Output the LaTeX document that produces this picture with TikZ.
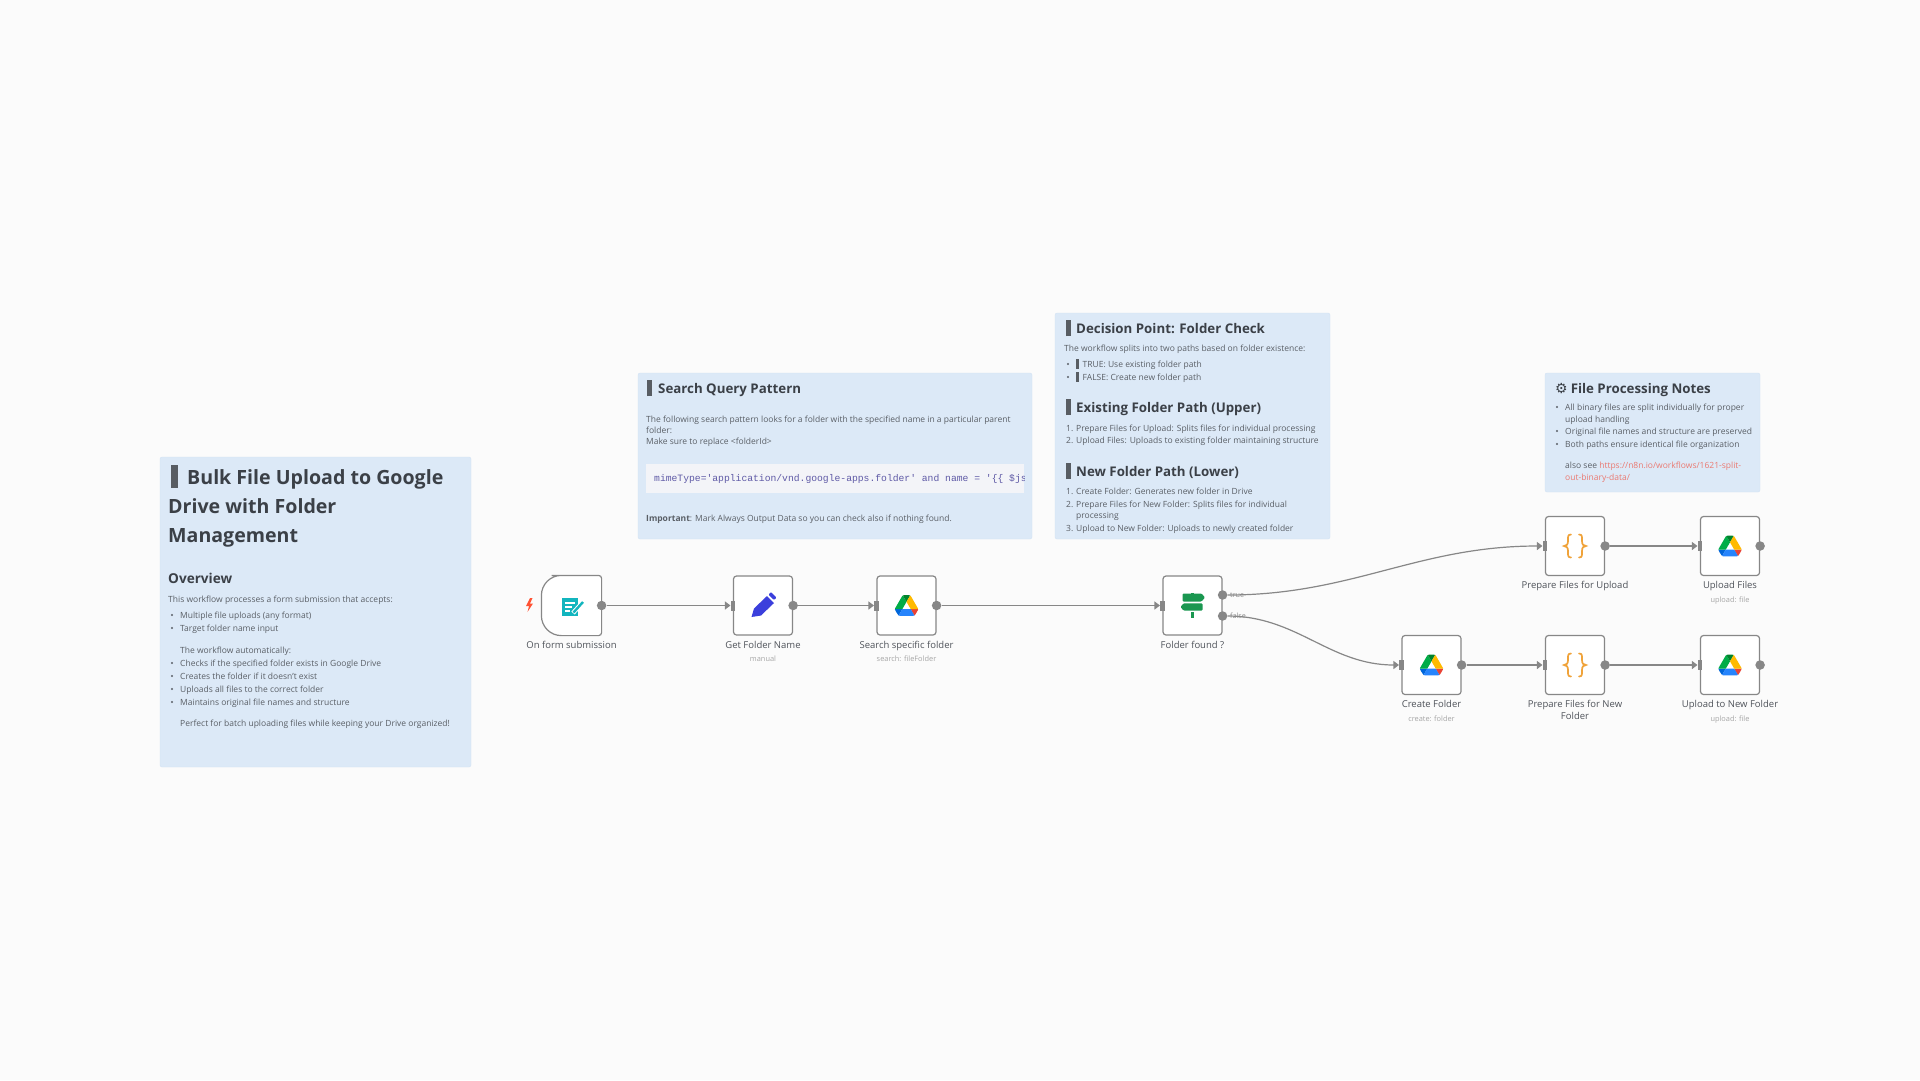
\documentclass[tikz,border=0pt]{standalone}
\usepackage{fontspec}
\setmainfont{Open Sans}
\newfontfamily\codefont{Liberation Mono}
\newfontfamily\symfont{DejaVu Sans}
\usetikzlibrary{calc,positioning,arrows.meta}

\definecolor{canvasbg}{HTML}{FBFBFB}
\definecolor{notefill}{HTML}{DCE9F7}
\definecolor{noteline}{HTML}{D3E2F3}
\definecolor{notetext}{HTML}{5A5F66}
\definecolor{headtext}{HTML}{3B4047}
\definecolor{wiregrey}{HTML}{878787}
\definecolor{linkred}{HTML}{EA7A72}
\definecolor{codepurple}{HTML}{5F5AA6}
\definecolor{codefill}{HTML}{F3F4F8}
\definecolor{signgreen}{HTML}{1A9750}
\definecolor{formteal}{HTML}{12B5BE}
\definecolor{penblue}{HTML}{3B3FDC}
\definecolor{braceorange}{HTML}{F0A33A}

\newcommand{\tofu}[3]{\textcolor{headtext!85}{\rule[#3]{#1}{#2}}}

\tikzset{
	note/.style={draw=noteline, fill=notefill, rounded corners=2pt, inner sep=0pt},
	titletxt/.style={anchor=base west, inner sep=0pt, text=headtext, font=\fontsize{19.6}{24}\selectfont\bfseries},
	headtxt/.style={anchor=base west, inner sep=0pt, text=headtext, font=\fontsize{13.3}{16}\selectfont\bfseries},
	bodytxt/.style={anchor=base west, inner sep=0pt, text=notetext, font=\fontsize{8.5}{10}\selectfont},
	wfnode/.style={draw=wiregrey, fill=white, line width=1.2pt, rounded corners=3pt, minimum size=59pt, inner sep=0pt},
	outdot/.style={circle, fill=wiregrey, minimum size=9.5pt, inner sep=0pt},
	inport/.style={fill=wiregrey, minimum width=4.5pt, minimum height=10pt, inner sep=0pt},
	wire/.style={draw=wiregrey, line width=1.2pt, -{Triangle[length=5.5pt,width=8pt]}},
	wflabel/.style={anchor=base, inner sep=0pt, text=headtext!90, font=\fontsize{9.5}{11}\selectfont},
	wfsub/.style={anchor=base, inner sep=0pt, text=black!35, font=\fontsize{7.4}{9}\selectfont},
	branchtxt/.style={anchor=west, inner sep=0pt, text=black!45, font=\fontsize{7.2}{9}\selectfont},
	pics/gdrive/.style={code={
		\begin{scope}[scale=.264, shift={(-43.65,-39)}]
			\fill[fill={rgb,255:red,0;green,102;blue,218}] (0,53) -- (27.5,53) -- (13.75,76.8) -- (6.6,66.85) -- (1.2,57.5) -- cycle;
			\fill[fill={rgb,255:red,0;green,172;blue,71}] (43.65,25) -- (29.9,1.2) -- (26.6,4.5) -- (1.2,48.5) -- (0,53) -- (27.5,53) -- cycle;
			\fill[fill={rgb,255:red,234;green,67;blue,53}] (73.55,76.8) -- (76.85,73.5) -- (86.1,57.5) -- (87.3,53) -- (59.8,53) -- (65.65,64.5) -- cycle;
			\fill[fill={rgb,255:red,0;green,131;blue,45}] (43.65,25) -- (57.4,1.2) -- (52.9,0) -- (34.4,0) -- (29.9,1.2) -- cycle;
			\fill[fill={rgb,255:red,38;green,132;blue,252}] (59.8,53) -- (27.5,53) -- (13.75,76.8) -- (18.25,78) -- (69.05,78) -- (73.55,76.8) -- cycle;
			\fill[fill={rgb,255:red,255;green,186;blue,0}] (73.4,26.5) -- (60.7,4.5) -- (57.4,1.2) -- (43.65,25) -- (59.8,53) -- (87.25,53) -- (86.05,48.5) -- cycle;
		\end{scope}
	}},
	pics/bracepair/.style={code={
		\draw[braceorange, line width=1.7pt, line cap=round] (-4,-11.5) .. controls (-7.5,-11.5) and (-7,-9) .. (-7,-5) .. controls (-7,-1.5) and (-8.5,0) .. (-11,0) .. controls (-8.5,0) and (-7,1.5) .. (-7,5) .. controls (-7,9) and (-7.5,11.5) .. (-4,11.5);
		\draw[braceorange, line width=1.7pt, line cap=round] (4,-11.5) .. controls (7.5,-11.5) and (7,-9) .. (7,-5) .. controls (7,-1.5) and (8.5,0) .. (11,0) .. controls (8.5,0) and (7,1.5) .. (7,5) .. controls (7,9) and (7.5,11.5) .. (4,11.5);
	}}
}

\begin{document}
\begin{tikzpicture}[x=1pt, y=-1pt]
	\useasboundingbox[fill=canvasbg] (0,0) rectangle (1920,1080);

	%the four notes
	\node (overview) at (315.5,612) [note, minimum width=311pt, minimum height=310pt] {};
	\node (querynote) at (835,456) [note, minimum width=394pt, minimum height=166pt] {};
	\node (decisionnote) at (1192.5,426) [note, minimum width=275pt, minimum height=226pt] {};
	\node (filesnote) at (1652.5,432.5) [note, minimum width=215pt, minimum height=119pt] {};

	\node (ovtitle1) at (171,484) [titletxt] {\tofu{7pt}{23pt}{-4pt}\hspace{9pt}Bulk File Upload to Google};
	\node (ovtitle2) at (168,513) [titletxt] {Drive with Folder};
	\node (ovtitle3) at (168,542) [titletxt] {Management};
	\node (ovhead) at (168,583) [headtxt, font=\fontsize{13.6}{16}\selectfont\bfseries] {Overview};
	\node (ovbody) at (168,602) [bodytxt] {This workflow processes a form submission that accepts:};
	\foreach \y/\txt [count=\i] in {618/{Multiple file uploads (any format)}, 631/{Target folder name input}, 653/{The workflow automatically:}, 666/{Checks if the specified folder exists in Google Drive}, 679/{Creates the folder if it doesn't exist}, 692/{Uploads all files to the correct folder}, 705/{Maintains original file names and structure}, 726/{Perfect for batch uploading files while keeping your Drive organized!}}
		\node (ovline\i) at (180,\y) [bodytxt] {\txt};
	\foreach \y in {618,631,666,679,692,705}
		\fill[notetext] (172,\y-3) circle (1.2pt);

	\node (qtitle) at (647,393) [headtxt] {\tofu{5pt}{16pt}{-3pt}\hspace{6pt}Search Query Pattern};
	\foreach \y/\txt [count=\i] in {422/{The following search pattern looks for a folder with the specified name in a particular parent}, 433/{folder:}, 444/{Make sure to replace <folderId>}}
		\node (qline\i) at (646,\y) [bodytxt] {\txt};
	\node (codebox) at (835,478.5) [fill=codefill, minimum width=378pt, minimum height=29pt, inner sep=0pt] {};
	\begin{scope}
		\clip (codebox.south west) rectangle (codebox.north east);
		\node (codeline) at (654,481) [bodytxt, text=codepurple, font=\fontsize{9.7}{11}\codefont] {mimeType='application/vnd.google-apps.folder' and name = '\{\{ \$json};
	\end{scope}
	\node (qimportant) at (646,521) [bodytxt] {\textbf{Important}: Mark Always Output Data so you can check also if nothing found.};

	\node (dtitle) at (1066,333) [headtxt] {\tofu{5pt}{16pt}{-3pt}\hspace{5pt}Decision Point: Folder Check};
	\node (dbody) at (1064,351) [bodytxt] {The workflow splits into two paths based on folder existence:};
	\node (dtrue) at (1076,367) [bodytxt] {\tofu{3pt}{10pt}{-1.5pt}\hspace{3.5pt}TRUE: Use existing folder path};
	\node (dfalse) at (1076,380) [bodytxt] {\tofu{3pt}{10pt}{-1.5pt}\hspace{3.5pt}FALSE: Create new folder path};
	\foreach \y in {367,380}
		\fill[notetext] (1068,\y-3) circle (1.2pt);
	\node (dhead1) at (1066,412) [headtxt] {\tofu{5pt}{16pt}{-3pt}\hspace{5pt}Existing Folder Path (Upper)};
	\node (dhead2) at (1066,476) [headtxt] {\tofu{5pt}{16pt}{-3pt}\hspace{5pt}New Folder Path (Lower)};
	\foreach \y/\num/\txt in {431/1./{Prepare Files for Upload: Splits files for individual processing}, 443/2./{Upload Files: Uploads to existing folder maintaining structure}, 494/1./{Create Folder: Generates new folder in Drive}, 507/2./{Prepare Files for New Folder: Splits files for individual}, 531/3./{Upload to New Folder: Uploads to newly created folder}} {
		\node (dnum\y) at (1066,\y) [bodytxt] {\num};
		\node (dstep\y) at (1076,\y) [bodytxt] {\txt};
	}
	\node (dwrap) at (1076,518.5) [bodytxt] {processing};

	\node (ftitle) at (1555,393) [headtxt] {{\symfont\fontsize{14}{16}\selectfont ⚙}\hspace{3pt}File Processing Notes};
	\foreach \y/\txt [count=\i] in {410/{All binary files are split individually for proper}, 422/{upload handling}, 434/{Original file names and structure are preserved}, 447/{Both paths ensure identical file organization}}
		\node (fline\i) at (1565,\y) [bodytxt] {\txt};
	\foreach \y in {410,434,447}
		\fill[notetext] (1557,\y-3) circle (1.2pt);
	\node (fsee) at (1565,468) [bodytxt] {also see \textcolor{linkred}{https://n8n.io/workflows/1621-split-}};
	\node (fsee2) at (1565,480) [bodytxt, text=linkred] {out-binary-data/};

	%workflow nodes
	\node (form) at (571.5,605.5) [wfnode, draw=none, fill=none] {};
	\filldraw[draw=wiregrey, fill=white, line width=1.2pt] (form.north) [rounded corners=3pt] -- (form.north east) -- (form.south east) -- (form.south) [rounded corners=20pt] -- (form.south west) -- (form.north west) -- cycle;
	\node (getname) at (763,605.5) [wfnode] {};
	\node (search) at (906.5,605.5) [wfnode] {};
	\node (found) at (1192.5,605.5) [wfnode] {};
	\node (prepup) at (1575,546) [wfnode] {};
	\node (upfiles) at (1730,546) [wfnode] {};
	\node (create) at (1431.5,665) [wfnode] {};
	\node (prepnew) at (1575,665) [wfnode] {};
	\node (upnew) at (1730,665) [wfnode] {};

	%ports
	\foreach \n in {form,getname,search,prepup,upfiles,create,prepnew,upnew}
		\node (\n out) at (\n.east) [outdot] {};
	\foreach \n in {getname,search,found,prepup,upfiles,create,prepnew,upnew}
		\node (\n in) at (\n.west) [inport] {};
	\node (foundtrue) at ($(found.east)+(0,-10.5)$) [outdot] {};
	\node (foundfalse) at ($(found.east)+(0,10.5)$) [outdot] {};

	%icons
	\foreach \n in {search,upfiles,create,upnew}
		\pic at (\n) {gdrive};
	\foreach \n in {prepup,prepnew}
		\pic at (\n) {bracepair};
	\fill[formteal] (562,598) rectangle (578,616);
	\draw[white, line width=1.1pt] (565,603) -- (575,603) (565,607) -- (572,607) (565,611) -- (570,611);
	\draw[white, line width=4.4pt] (573,613) -- (583,602);
	\draw[formteal, line width=2.4pt] (573.5,612.5) -- (583,602);
	\fill[penblue] (751.5,617) -- (754,608.5) -- (767,596) -- (774,603) -- (761,615.5) -- cycle;
	\fill[penblue, rounded corners=1pt] (768.5,594.5) -- (771,592) -- (776.5,597.5) -- (774,600) -- cycle;
	\fill[signgreen, shift={(found.center)}, rounded corners=1pt] (-10,-12) -- (9,-12) -- (12.5,-8) -- (9,-4) -- (-10,-4) -- cycle;
	\fill[signgreen, shift={(found.center)}, rounded corners=1pt] (-12,1.5) -- (-9,-2.2) -- (10,-2.2) -- (10,5) -- (-9,5) -- cycle;
	\fill[signgreen, shift={(found.center)}] (-1.7,6) rectangle (1.7,12);
	\fill[signgreen, shift={(found.center)}] (-1.7,-13) rectangle (1.7,-12);
	\fill[red!70!orange!80] (530,598) -- (526,606) -- (529,606) -- (527.5,612) -- (533,603.5) -- (530,603.5) -- (532.5,598) -- cycle;

	%connectors
	\draw[wire] (formout) -- (getnamein);
	\draw[wire] (getnameout) -- (searchin);
	\draw[wire] (searchout) -- (foundin);
	\draw[wire] (foundtrue) to [out=0, in=180] (prepupin);
	\draw[wire] (foundfalse) to [out=0, in=180] (createin);
	\draw[wire] (prepupout) -- (upfilesin);
	\draw[wire] (createout) -- (prepnewin);
	\draw[wire] (prepnewout) -- (upnewin);
	\node (truelabel) at (1230,595) [branchtxt] {true};
	\node (falselabel) at (1230,615.5) [branchtxt] {false};

	%labels under the nodes
	\foreach \n/\txt in {form/On form submission, getname/Get Folder Name, search/Search specific folder, found/Folder found ?, prepup/Prepare Files for Upload, upfiles/Upload Files, create/Create Folder, prepnew/Prepare Files for New, upnew/Upload to New Folder}
		\node (\n label) at ($(\n.south)+(0,12.5)$) [wflabel] {\txt};
	\node (prepnewlabel2) at ($(prepnew.south)+(0,24.5)$) [wflabel] {Folder};
	\foreach \n/\txt in {getname/manual, search/{search: fileFolder}, upfiles/{upload: file}, create/{create: folder}, upnew/{upload: file}}
		\node (\n sub) at ($(\n.south)+(0,26)$) [wfsub] {\txt};
\end{tikzpicture}
\end{document}
